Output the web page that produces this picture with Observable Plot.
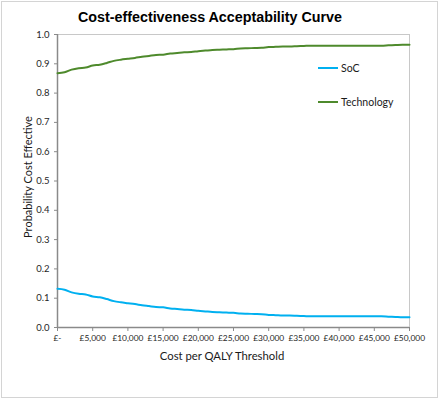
<!DOCTYPE html>
<html>
<head>
<meta charset="utf-8">
<script src="https://cdn.jsdelivr.net/npm/d3@7"></script>
<script src="https://cdn.jsdelivr.net/npm/@observablehq/plot@0.6"></script>
<style>
  body { margin: 0; background: #fff; }
  #wrap { position: relative; width: 440px; height: 400px; overflow: hidden; font-family: Lato, "Open Sans", sans-serif; }
  #border { position: absolute; left: 1px; top: 1px; width: 435px; height: 395px; border: 1px solid #d4d4d4; pointer-events: none; }
  #title { position: absolute; left: 0; top: 9px; width: 420px; text-align: center; font: bold 14.3px "Liberation Sans", Arial, sans-serif; color: #000; }
  .lab { position: absolute; color: #1a1a1a; white-space: nowrap; }
  #xlab { left: 222px; top: 349px; transform: translateX(-50%); font-size: 11.3px; }
  #ylab { left: 27px; top: 177px; transform: translate(-50%, -50%) rotate(-90deg); font-size: 11px; }
  .leg { position: absolute; font-size: 10.5px; color: #1a1a1a; display: flex; align-items: center; }
  .leg span.sw { display: inline-block; width: 20px; height: 2px; margin-right: 3px; }
  #chart { position: absolute; left: 0; top: 0; }
</style>
</head>
<body>
<div id="wrap">
  <div id="chart"></div>
  <div id="title">Cost-effectiveness Acceptability Curve</div>
  <div id="xlab" class="lab">Cost per QALY Threshold</div>
  <div id="ylab" class="lab">Probability Cost Effective</div>
  <div id="legend"></div>
  <div id="border"></div>
</div>
<script>
const thresholds = [0,1000,2000,3000,4000,5000,6000,7000,8000,9000,10000,11000,12000,13000,14000,15000,16000,17000,18000,19000,20000,21000,22000,23000,24000,25000,26000,27000,28000,29000,30000,31000,32000,33000,34000,35000,36000,37000,38000,39000,40000,41000,42000,43000,44000,45000,46000,47000,48000,49000,50000];
const soc = [0.132,0.129,0.120,0.115,0.113,0.106,0.103,0.097,0.090,0.086,0.083,0.080,0.076,0.073,0.070,0.069,0.065,0.063,0.061,0.060,0.057,0.055,0.053,0.052,0.051,0.050,0.048,0.047,0.046,0.045,0.043,0.042,0.041,0.041,0.040,0.039,0.038,0.038,0.038,0.038,0.038,0.038,0.038,0.038,0.038,0.038,0.038,0.037,0.036,0.035,0.035];
const technology = [0.868,0.871,0.880,0.885,0.887,0.894,0.897,0.903,0.910,0.914,0.917,0.920,0.924,0.927,0.930,0.931,0.935,0.937,0.939,0.940,0.943,0.945,0.947,0.948,0.949,0.950,0.952,0.953,0.954,0.955,0.957,0.958,0.959,0.959,0.960,0.961,0.962,0.962,0.962,0.962,0.962,0.962,0.962,0.962,0.962,0.962,0.962,0.963,0.964,0.965,0.965];
const seriesNames = ["SoC", "Technology"];
const seriesColors = ["#00b0f0", "#4e8a2c"];
const xTicks = [0,5000,10000,15000,20000,25000,30000,35000,40000,45000,50000];
const xTickLabels = ["£-","£5,000","£10,000","£15,000","£20,000","£25,000","£30,000","£35,000","£40,000","£45,000","£50,000"];
const yTicks = [0,0.1,0.2,0.3,0.4,0.5,0.6,0.7,0.8,0.9,1.0];

const rows = [];
seriesNames.forEach((name, si) => {
  const vals = si === 0 ? soc : technology;
  thresholds.forEach((t, i) => rows.push({series: name, x: t, y: vals[i]}));
});

const chart = Plot.plot({
  width: 440,
  height: 400,
  marginLeft: 57,
  marginRight: 31,
  marginTop: 34,
  marginBottom: 73,
  style: {fontFamily: "Lato, 'Open Sans', sans-serif", fontSize: "9.5px", color: "#262626", background: "transparent"},
  x: {domain: [0, 50000]},
  y: {domain: [0, 1]},
  color: {domain: seriesNames, range: seriesColors},
  marks: [
    Plot.frame({stroke: "#c8c8c8"}),
    Plot.axisX({ticks: xTicks, tickFormat: d => xTickLabels[xTicks.indexOf(d)], tickSize: 4, tickPadding: 4, stroke: "#8a8a8a", fontSize: 8.4, label: null}),
    Plot.axisY({ticks: yTicks, tickFormat: d3.format(".1f"), tickSize: 3, tickPadding: 5, stroke: "#8a8a8a", label: null}),
    Plot.ruleX([0], {stroke: "#8a8a8a", strokeWidth: 1.5}),
    Plot.ruleY([0], {stroke: "#8a8a8a", strokeWidth: 1.5}),
    Plot.line(rows, {x: "x", y: "y", stroke: "series", z: "series", strokeWidth: 2, curve: "monotone-x"})
  ]
});
document.getElementById("chart").appendChild(chart);

const legend = document.getElementById("legend");
const legendTops = [62, 96];
seriesNames.forEach((name, i) => {
  const d = document.createElement("div");
  d.className = "leg";
  d.style.left = "318px";
  d.style.top = legendTops[i] + "px";
  d.innerHTML = `<span class="sw" style="background:${seriesColors[i]}"></span><span>${name}</span>`;
  legend.appendChild(d);
});
</script>
</body>
</html>
